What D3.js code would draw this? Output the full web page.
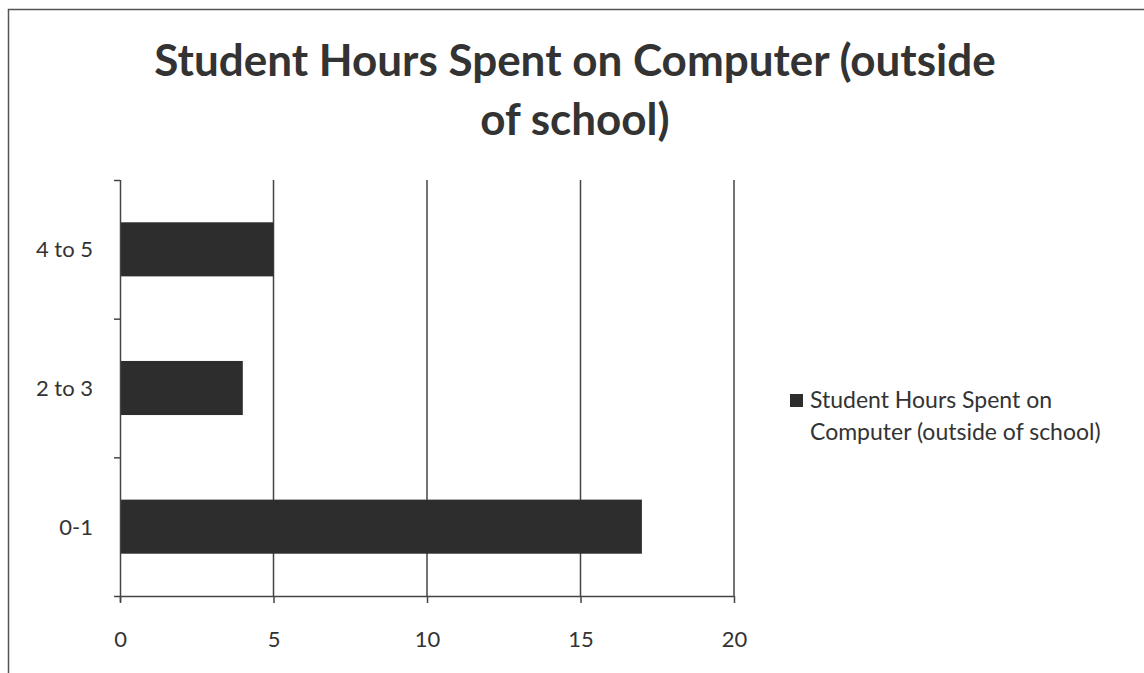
<!DOCTYPE html>
<html>
<head>
<meta charset="utf-8">
<script src="https://cdn.jsdelivr.net/npm/d3@7/dist/d3.min.js"></script>
<style>
  html, body { margin: 0; padding: 0; background: #fff; }
  svg { display: block; }
</style>
</head>
<body>
<svg id="chart" width="1144" height="673"></svg>
<script>
// Hours-per-day buckets, listed bottom to top as they appear on the axis
const categories = ["0-1", "2 to 3", "4 to 5"];
const studentCounts = [17, 4, 5];
const xTicks = [0, 5, 10, 15, 20];
const titleLines = ["Student Hours Spent on Computer (outside", "of school)"];
const legendLines = ["Student Hours Spent on", "Computer (outside of school)"];

const W = 1144, H = 673;
const svg = d3.select("#chart");
const font = "Lato, 'Open Sans', sans-serif";
const ink = "#2d2d2d";
const axisInk = "#444";

// Outer chart frame
svg.append("rect")
  .attr("x", 8.5).attr("y", 9.5)
  .attr("width", W + 10).attr("height", H + 10)
  .attr("fill", "none").attr("stroke", "#555").attr("stroke-width", 1.5);

// Title
svg.append("g").selectAll("text")
  .data(titleLines)
  .join("text")
  .attr("x", 575)
  .attr("y", (d, i) => 76 + i * 59)
  .attr("text-anchor", "middle")
  .attr("font-family", font)
  .attr("font-weight", "bold")
  .attr("font-size", 44)
  .attr("fill", "#333")
  .text(d => d);

const plot = { left: 120, right: 734, top: 180, bottom: 596 };

const x = d3.scaleLinear().domain([0, 20]).range([plot.left, plot.right]);
const y = d3.scaleBand()
  .domain(categories.slice().reverse())
  .range([plot.top, plot.bottom])
  .paddingInner(0.61).paddingOuter(0.305);

// Vertical gridlines
svg.append("g").selectAll("line")
  .data(xTicks.filter(t => t > 0))
  .join("line")
  .attr("x1", d => x(d)).attr("x2", d => x(d))
  .attr("y1", plot.top).attr("y2", plot.bottom)
  .attr("stroke", axisInk).attr("stroke-width", 1.5);

// Bars
svg.append("g").selectAll("rect")
  .data(categories.map((c, i) => ({ c, v: studentCounts[i] })))
  .join("rect")
  .attr("x", x(0))
  .attr("y", d => y(d.c))
  .attr("width", d => x(d.v) - x(0))
  .attr("height", y.bandwidth())
  .attr("fill", ink);

// X axis
const xAxis = svg.append("g")
  .attr("transform", `translate(0,${plot.bottom})`)
  .call(d3.axisBottom(x).tickValues(xTicks).tickSize(7).tickSizeOuter(0));
xAxis.select(".domain").attr("stroke", axisInk).attr("stroke-width", 1.5)
  .attr("d", `M${plot.left - 6},0.5H${plot.right}`);
xAxis.selectAll(".tick line").attr("stroke", axisInk).attr("stroke-width", 1.5);
xAxis.selectAll("text")
  .attr("y", 51).attr("dy", 0)
  .attr("font-family", font).attr("font-size", 22).attr("fill", "#333");

// Y axis: category labels, with ticks on the band boundaries
const yAxis = svg.append("g").attr("transform", `translate(${plot.left},0)`);
yAxis.append("line")
  .attr("x1", 0.5).attr("x2", 0.5)
  .attr("y1", plot.top).attr("y2", plot.bottom + 6)
  .attr("stroke", axisInk).attr("stroke-width", 1.5);
yAxis.selectAll(".bt")
  .data(d3.range(categories.length))
  .join("line")
  .attr("class", "bt")
  .attr("x1", -6).attr("x2", 0)
  .attr("y1", i => plot.top + i * y.step() + 0.5)
  .attr("y2", i => plot.top + i * y.step() + 0.5)
  .attr("stroke", axisInk).attr("stroke-width", 1.5);
yAxis.selectAll("text")
  .data(categories)
  .join("text")
  .attr("x", -27)
  .attr("y", d => y(d) + y.bandwidth() / 2 + 8)
  .attr("text-anchor", "end")
  .attr("font-family", font)
  .attr("font-size", 22)
  .attr("fill", "#333")
  .text(d => d);

// Legend
const legend = svg.append("g");
legend.append("rect")
  .attr("x", 790).attr("y", 394).attr("width", 13).attr("height", 13)
  .attr("fill", ink);
legend.selectAll("text")
  .data(legendLines)
  .join("text")
  .attr("x", 810)
  .attr("y", (d, i) => 408 + i * 32)
  .attr("font-family", font)
  .attr("font-size", 23)
  .attr("fill", "#333")
  .text(d => d);
</script>
</body>
</html>
